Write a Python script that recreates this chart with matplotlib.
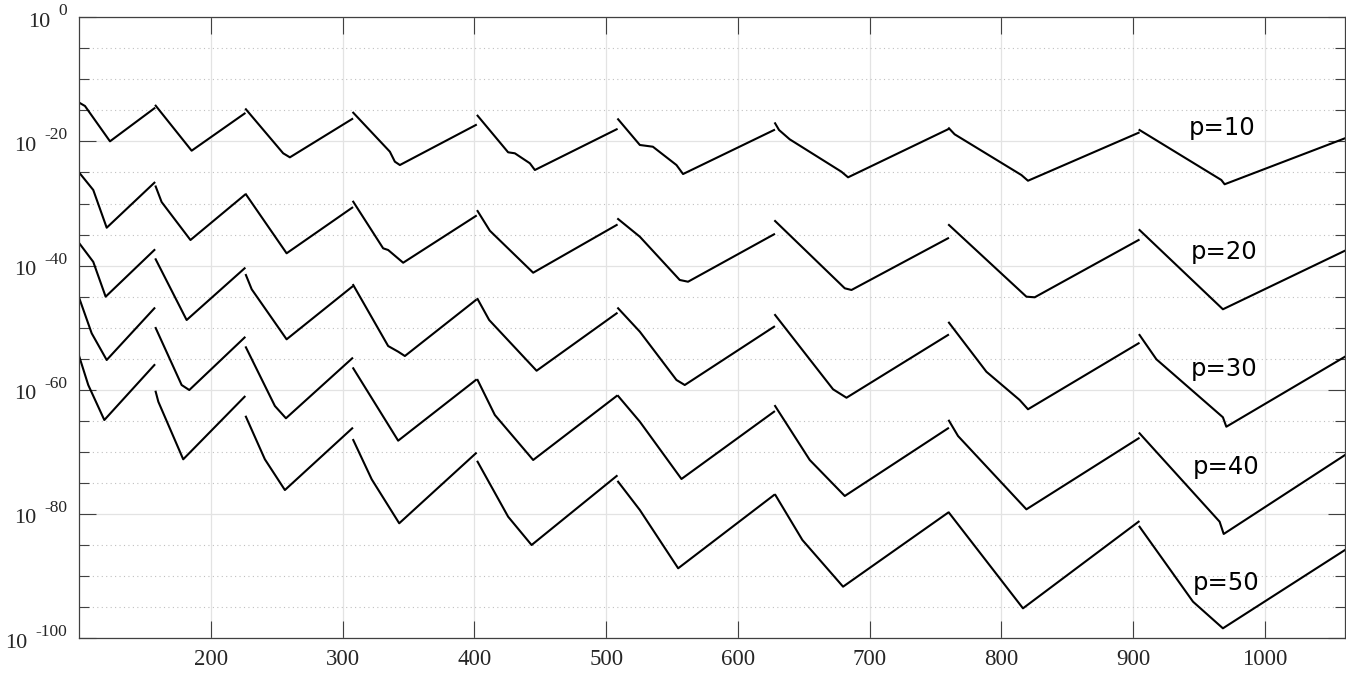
import matplotlib
matplotlib.use("Agg")
import matplotlib.pyplot as plt
from matplotlib.ticker import FixedLocator, NullFormatter

# each curve: list of segments, each segment = list of (x, log10 of value)
p10 = [
    [(100, -13.76), (104.3, -14.29), (123.3, -19.98), (157, -14.66)],
    [(158, -14.24), (185.3, -21.49), (225.5, -15.5)],
    [(226.5, -14.82), (254.8, -21.91), (259.9, -22.56), (307.2, -16.38)],
    [(308, -15.37), (335.8, -21.65), (339.6, -23.26), (343.4, -23.8), (401.1, -17.35)],
    [(402.4, -15.85), (425.6, -21.75), (430.7, -21.91), (442.1, -23.52), (445.9, -24.6), (508, -18.04)],
    [(509.1, -16.43), (525.6, -20.57), (535.5, -20.85), (553.4, -23.8), (558.4, -25.25), (627.5, -18.16)],
    [(628.3, -17.08), (631.3, -18.16), (639.4, -19.66), (678.6, -24.87), (683.7, -25.78), (759.6, -18.04)],
    [(760.3, -17.88), (764.6, -18.85), (815.3, -25.41), (820.3, -26.33), (904.3, -18.6)],
    [(905, -18.16), (967.1, -26.21), (969.6, -26.9), (1061, -19.49)],
]
p20 = [
    [(100, -25.04), (110.6, -27.82), (120.8, -33.9), (157, -26.65)],
    [(158, -27.26), (162.5, -29.76), (184.4, -35.88), (225.5, -28.63)],
    [(226.5, -28.52), (257.4, -38.02), (307.2, -30.67)],
    [(308, -29.71), (330.7, -37.22), (334.5, -37.49), (345.9, -39.54), (401.1, -32.01)],
    [(402.4, -31.21), (411.7, -34.38), (444.6, -41.15), (508, -33.46)],
    [(509.1, -32.5), (525.6, -35.35), (555.9, -42.32), (562.2, -42.6), (627.5, -34.96)],
    [(628.3, -32.82), (681.2, -43.66), (686.3, -43.93), (759.6, -35.6)],
    [(760.3, -33.46), (819.1, -45.01), (825.4, -45.11), (904.3, -35.88)],
    [(905, -34.27), (968.3, -47.04), (1061, -37.6)],
]
p30 = [
    [(100, -36.41), (110.6, -39.4), (120, -45.01), (157, -37.49)],
    [(158, -38.99), (181.5, -48.77), (225.5, -40.44)],
    [(226.5, -41.52), (230.9, -43.82), (257.4, -51.88), (307.2, -43.4)],
    [(308, -43.13), (334.5, -52.96), (342.1, -53.87), (347.2, -54.57), (401.1, -45.55)],
    [(402.4, -45.38), (411.2, -48.77), (447.2, -56.94), (508, -47.69)],
    [(509.1, -46.88), (525.6, -50.65), (553.4, -58.43), (559.7, -59.24), (627.5, -49.85)],
    [(628.3, -47.96), (672.3, -59.93), (682.5, -61.29), (759.6, -51.18)],
    [(760.3, -49.2), (788.7, -57.1), (814, -61.66), (820.3, -63.15), (904.3, -52.52)],
    [(905, -51.18), (917.8, -55.1), (968.3, -64.44), (970.9, -65.96), (1061, -54.68)],
]
p40 = [
    [(100, -45.27), (109.4, -50.91), (120.8, -55.21), (157, -46.88)],
    [(158, -50.06), (177.7, -59.24), (183.5, -60.05), (225.5, -51.59)],
    [(226.5, -53.17), (248.5, -62.62), (256.9, -64.6), (307.2, -54.94)],
    [(308, -56.55), (342.1, -68.21), (401.1, -58.43)],
    [(402.4, -58.43), (415.5, -64.07), (444.6, -71.32), (508, -61.01)],
    [(509.1, -61.01), (525.6, -65.15), (557.2, -74.38), (627.5, -63.54)],
    [(628.3, -62.62), (654.6, -71.32), (681.2, -77.12), (759.6, -66.22)],
    [(760.3, -64.99), (767.2, -67.46), (819.1, -79.27), (904.3, -67.83)],
    [(905, -67.02), (965.8, -81.26), (968.9, -83.24), (1061, -70.52)],
]
p50 = [
    [(100, -54.68), (106.8, -59.24), (119, -64.88), (157, -56.02)],
    [(158, -60.32), (160, -61.93), (178.9, -71.21), (225.5, -61.13)],
    [(226.5, -64.35), (240.9, -71.21), (256.1, -76.16), (307.2, -66.22)],
    [(308, -68.1), (322, -74.43), (342.9, -81.52), (401.1, -70.24)],
    [(402.4, -71.6), (425.6, -80.46), (443.4, -85.02), (508, -73.9)],
    [(509.1, -74.82), (525.6, -79.38), (554.7, -88.77), (627.5, -76.96)],
    [(628.5, -76.96), (649, -84.21), (679.9, -91.73), (759.6, -79.81)],
    [(760.3, -79.81), (816.5, -95.22), (904.3, -81.26)],
    [(905, -82.07), (945.6, -94.15), (968.3, -98.44), (1061, -85.82)],
]
curves = [p10, p20, p30, p40, p50]
labels = ['p=10', 'p=20', 'p=30', 'p=40', 'p=50']
label_x = [942.4, 943.6, 943.6, 945.3, 945.3]
label_e = [-17.85, -37.77, -56.71, -72.4, -91.19]
ytick_exp = [0, -20, -40, -60, -80, -100]
xticks = [200, 300, 400, 500, 600, 700, 800, 900, 1000]

fig = plt.figure(figsize=(13.46, 6.73), dpi=100)
ax = fig.add_axes([79.3 / 1346, 35 / 673, (1345 - 79.3) / 1346, (638 - 17.3) / 673])

for segs in curves:
    for seg in segs:
        xs = [pt[0] for pt in seg]
        ys = [10.0 ** pt[1] for pt in seg]
        ax.plot(xs, ys, color='black', lw=1.5)

for lab, lx, le in zip(labels, label_x, label_e):
    ax.text(lx, 10.0 ** le, lab, fontsize=17.5, family='DejaVu Sans',
            va='center', ha='left')

ax.set_yscale('log')
ax.set_xlim(100, 1061)
ax.set_ylim(1e-100, 1)

ax.yaxis.set_major_locator(FixedLocator([10.0 ** e for e in ytick_exp]))
ax.yaxis.set_minor_locator(FixedLocator(
    [10.0 ** -k for k in range(5, 100, 5) if k % 20 != 0]))
ax.yaxis.set_minor_formatter(NullFormatter())
ax.yaxis.set_major_formatter(NullFormatter())
ax.set_xticks(xticks)

# matlab style y labels: "10" with a raised exponent
ytrans = ax.get_yaxis_transform()
for e in ytick_exp:
    ex = ax.annotate(str(e), xy=(0, 10.0 ** e), xycoords=ytrans,
                     xytext=(-12, 6), textcoords='offset pixels',
                     ha='right', va='center', fontsize=12.5,
                     family='Liberation Serif', color='#262626')
    ax.annotate('10', xy=(0, 0.5), xycoords=ex, xytext=(-8, -11),
                textcoords='offset pixels', ha='right', va='center',
                fontsize=16, family='Liberation Serif', color='#262626')

ax.grid(which='major', color='#e3e3e3', lw=0.9, ls='-')
ax.grid(which='minor', axis='y', color='#c0c0c0', lw=0.8, ls=(0, (1, 3)))
ax.set_axisbelow(True)

ax.tick_params(which='both', direction='in', top=True, right=True,
               color='#404040', labelsize=16.5)
ax.tick_params(which='major', length=12, width=0.8)
ax.tick_params(which='minor', length=7, width=0.8)
ax.tick_params(axis='x', pad=8)
for lab in ax.get_xticklabels():
    lab.set_family('Liberation Serif')
    lab.set_color('#262626')
for sp in ax.spines.values():
    sp.set_color('#404040')
    sp.set_linewidth(0.9)

fig.savefig('out.png', dpi=100)
